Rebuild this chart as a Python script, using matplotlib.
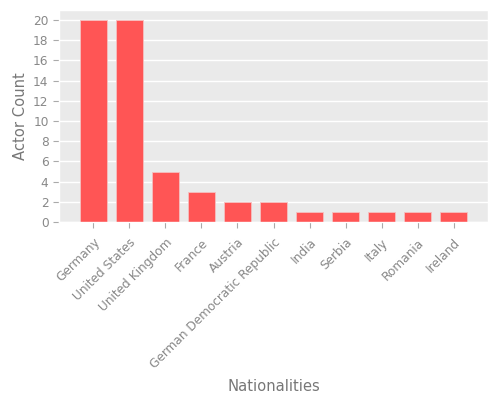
import matplotlib
matplotlib.use("Agg")
import matplotlib.pyplot as plt

nationalities = ["Germany", "United States", "United Kingdom", "France", "Austria",
                 "German Democratic Republic", "India", "Serbia", "Italy", "Romania", "Ireland"]
actor_counts = [20, 20, 5, 3, 2, 2, 1, 1, 1, 1, 1]

plt.style.use("ggplot")
fig = plt.figure(figsize=(5, 4), dpi=100)
ax = fig.add_axes([0.118, 0.445, 0.858, 0.53])
ax.set_facecolor("#EAEAEA")

ax.bar(range(len(nationalities)), actor_counts, width=0.75, color="#FF5555",
       edgecolor="#F5C0C0", linewidth=0.6)

ax.set_xlim(-0.95, 10.95)
ax.set_ylim(0, 21)
ax.set_yticks(range(0, 21, 2))
ax.set_xticks(range(len(nationalities)))
ax.set_xticklabels(nationalities, rotation=45, ha="right", rotation_mode="anchor")
ax.grid(axis="x", visible=False)
ax.grid(axis="y", color="white", linewidth=1)

ax.tick_params(colors="#AAAAAA", labelcolor="#888888", labelsize=8.7, length=4)
ax.tick_params(axis="x", pad=6)
ax.set_ylabel("Actor Count", fontsize=10.6, color="#777777", labelpad=4)
ax.set_xlabel("Nationalities", fontsize=10.6, color="#777777", labelpad=6)

fig.savefig("out.png", dpi=100)
